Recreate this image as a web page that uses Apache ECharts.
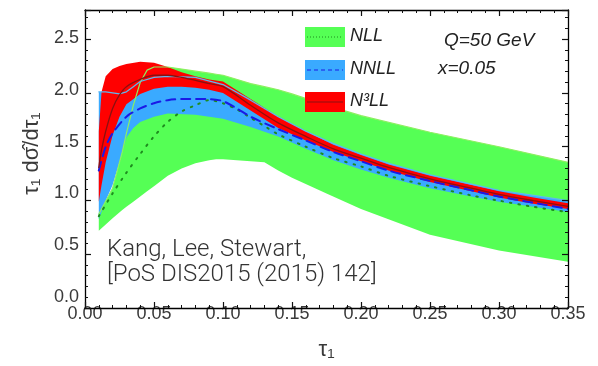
<!DOCTYPE html>
<html><head><meta charset="utf-8">
<script src="https://cdn.jsdelivr.net/npm/echarts@6/dist/echarts.min.js"></script>
<style>html,body{margin:0;padding:0;background:#fff}#c{width:598px;height:366px}</style>
</head><body><div id="c"></div>
<script>
// ---- data ----
const nllX   = [0.01,0.02,0.027,0.03,0.035,0.04,0.045,0.05,0.06,0.07,0.08,0.09,0.095,0.10,0.12,0.13,0.14,0.15,0.175,0.20,0.25,0.30,0.35];
const nllHi  = [0.80,1.05,1.40,1.58,1.85,2.07,2.19,2.22,2.22,2.20,2.18,2.16,2.15,2.14,2.06,2.03,2.00,1.96,1.85,1.75,1.59,1.45,1.30];
const nllLo  = [0.64,0.76,0.84,0.87,0.92,0.97,1.02,1.07,1.17,1.24,1.29,1.32,1.33,1.33,1.31,1.30,1.22,1.15,1.00,0.85,0.60,0.45,0.34];

const nnllX  = [0.01,0.015,0.02,0.025,0.03,0.035,0.04,0.05,0.06,0.08,0.10,0.12,0.14,0.16,0.18,0.20,0.22,0.25,0.28,0.30,0.325,0.35];
const nnllHi = [1.98,1.98,1.97,1.96,1.98,2.03,2.08,2.12,2.13,2.12,2.05,1.90,1.74,1.60,1.48,1.38,1.29,1.18,1.09,1.03,0.98,0.93];
const nnllLo = [0.75,0.93,1.08,1.30,1.54,1.63,1.69,1.74,1.77,1.76,1.72,1.64,1.55,1.43,1.32,1.23,1.15,1.05,0.97,0.92,0.87,0.82];

const n3llX  = [0.01,0.012,0.015,0.02,0.025,0.03,0.04,0.05,0.06,0.07,0.08,0.09,0.10,0.12,0.14,0.16,0.18,0.20,0.22,0.25,0.28,0.30,0.325,0.35];
const n3llHi = [1.60,1.98,2.13,2.20,2.23,2.25,2.27,2.26,2.22,2.17,2.13,2.10,2.08,1.91,1.74,1.60,1.47,1.37,1.28,1.17,1.08,1.02,0.96,0.905];
const n3llLo = [0.92,1.08,1.30,1.56,1.74,1.86,1.96,2.01,2.03,2.03,2.02,2.00,1.97,1.80,1.63,1.51,1.40,1.31,1.22,1.11,1.02,0.96,0.90,0.85];
const n3llC  = [1.25,1.42,1.60,1.82,1.95,2.03,2.10,2.14,2.14,2.12,2.09,2.06,2.03,1.85,1.68,1.55,1.43,1.34,1.25,1.14,1.05,0.99,0.93,0.875];

const nllCX  = [0.01,0.02,0.03,0.04,0.05,0.06,0.07,0.08,0.09,0.10,0.11,0.12,0.13,0.14,0.16,0.18,0.20,0.22,0.25,0.28,0.30,0.325,0.35];
const nllC   = [0.78,1.00,1.20,1.38,1.55,1.69,1.79,1.85,1.90,1.87,1.81,1.73,1.65,1.57,1.45,1.34,1.26,1.17,1.07,0.98,0.93,0.87,0.82];

const nnllCX = [0.01,0.015,0.02,0.03,0.04,0.05,0.06,0.07,0.08,0.09,0.10,0.11,0.12,0.14,0.16,0.18,0.20,0.22,0.25,0.28,0.30,0.325,0.35];
const nnllC  = [1.22,1.45,1.58,1.74,1.82,1.87,1.90,1.91,1.91,1.91,1.89,1.82,1.74,1.62,1.51,1.40,1.31,1.22,1.12,1.03,0.97,0.91,0.85];

const xTicks = [0, 0.05, 0.10, 0.15, 0.20, 0.25, 0.30, 0.35];
const yTicks = [0, 0.5, 1.0, 1.5, 2.0, 2.5];

// ---- helpers ----
const zip = (xs, ys) => xs.map((x, i) => [x, ys[i]]);
// band polygon drawn through the cartesian coordinate system (api.coord)
function band(name, xs, hi, lo, color, z) {
  return {
    type: 'custom', name, z, silent: true,
    data: zip(xs, hi),
    encode: { x: 0, y: 1 },
    renderItem: (params, api) => {
      if (params.dataIndex !== 0) return;
      const pts = [];
      for (let i = 0; i < xs.length; i++) pts.push(api.coord([xs[i], hi[i]]));
      for (let i = xs.length - 1; i >= 0; i--) pts.push(api.coord([xs[i], lo[i]]));
      return { type: 'polygon', shape: { points: pts, smooth: 0 }, style: { fill: color } };
    }
  };
}
function line(xs, ys, color, width, type, z, smooth) {
  return {
    type: 'line', data: zip(xs, ys), showSymbol: false, silent: true, z,
    smooth: smooth === undefined ? 0.3 : smooth,
    lineStyle: { color, width, type, cap: 'round' }
  };
}

const font = "'Liberation Sans', Arial, sans-serif";
const isTick = (v, arr) => arr.some(t => Math.abs(t - v) < 1e-6);
// labelled axes on grid 0 (data), frame+ticks on grid 1 (same rectangle)
function labelAxis(isX) {
  const o = {
    type: 'value', gridIndex: 0, position: isX ? 'bottom' : 'left',
    min: 0, max: isX ? 0.35 : 2.77, interval: isX ? 0.05 : 0.5,
    axisLine: { show: false, onZero: false }, axisTick: { show: false }, splitLine: { show: false },
    axisLabel: {
      show: true, fontSize: 18, color: '#3a3a3a', fontFamily: font, margin: isX ? 8 : 6,
      formatter: v => isTick(v, isX ? xTicks : yTicks) ? v.toFixed(isX ? 2 : 1) : ''
    },
    nameLocation: 'middle',
    nameTextStyle: { fontSize: 22, color: '#3a3a3a', fontFamily: font }
  };
  if (isX) { o.name = 'τ₁'; o.nameGap = 42; }
  else { o.name = 'τ₁ dσ̂/dτ₁'; o.nameGap = 40; o.nameRotate = 90; }
  return o;
}
function frameAxis(isX, position) {
  return {
    type: 'value', gridIndex: 1, position, z: 10,
    min: 0, max: isX ? 0.35 : 2.77, interval: isX ? 0.05 : 0.5,
    axisLine: { show: true, onZero: false, lineStyle: { color: '#000', width: 1.3 } },
    axisTick: { show: true, inside: true, length: 6, lineStyle: { color: '#111', width: 1.2 } },
    minorTick: { show: true, splitNumber: 5, length: 3, lineStyle: { color: '#111', width: 1 } },
    splitLine: { show: false },
    axisLabel: { show: false }
  };
}

const chart = echarts.init(document.getElementById('c'), null, { renderer: 'canvas' });
chart.setOption({
  animation: false,
  backgroundColor: '#fff',
  grid: [
    { left: 85, right: 30, top: 10, bottom: 58 },
    { left: 85, right: 30, top: 10, bottom: 58 }
  ],
  xAxis: [labelAxis(true), frameAxis(true, 'bottom'), frameAxis(true, 'top')],
  yAxis: [labelAxis(false), frameAxis(false, 'left'), frameAxis(false, 'right')],
  series: [
    band('NLL', nllX, nllHi, nllLo, '#55FF55', 1),
    band('NNLL', nnllX, nnllHi, nnllLo, '#3AAAFF', 2),
    band('N3LL', n3llX, n3llHi, n3llLo, '#FF0000', 3),
    line(nllX, nllHi, '#8CF060', 1.2, 'solid', 4, false),
    line(nnllX, nnllHi, '#5FB8F0', 1.2, 'solid', 4, false),
    line(nllCX, nllC, '#1E8C1E', 2, [1.5, 7], 5),
    line(nnllCX, nnllC, '#1A1AE6', 2, [9, 6], 6),
    line(n3llX, n3llC, '#8B1010', 1.3, 'solid', 7)
  ],
  graphic: [
    // legend
    { type: 'rect', left: 305, top: 27, shape: { width: 40, height: 20 }, style: { fill: '#55FF55' }, z: 20 },
    { type: 'line', shape: { x1: 307, y1: 37, x2: 343, y2: 37 }, style: { stroke: '#1E8C1E', lineWidth: 1, lineDash: [1, 2] }, z: 21 },
    { type: 'rect', left: 305, top: 60, shape: { width: 40, height: 20 }, style: { fill: '#3AAAFF' }, z: 20 },
    { type: 'line', shape: { x1: 307, y1: 70, x2: 343, y2: 70 }, style: { stroke: '#1A1AE6', lineWidth: 1, lineDash: [4, 3] }, z: 21 },
    { type: 'rect', left: 305, top: 92, shape: { width: 40, height: 20 }, style: { fill: '#FF0000' }, z: 20 },
    { type: 'line', shape: { x1: 307, y1: 102, x2: 343, y2: 102 }, style: { stroke: '#8B1010', lineWidth: 1 }, z: 21 },
    { type: 'text', left: 350, top: 27, style: { text: 'NLL', font: 'italic 18px ' + font, fill: '#222' }, z: 21 },
    { type: 'text', left: 350, top: 60, style: { text: 'NNLL', font: 'italic 18px ' + font, fill: '#222' }, z: 21 },
    { type: 'text', left: 350, top: 92, style: { text: 'N³LL', font: 'italic 18px ' + font, fill: '#222' }, z: 21 },
    { type: 'text', left: 444, top: 31, style: { text: 'Q=50 GeV', font: 'italic 19px ' + font, fill: '#222' }, z: 21 },
    { type: 'text', left: 438, top: 59, style: { text: 'x=0.05', font: 'italic 19px ' + font, fill: '#222' }, z: 21 },
    // credit
    { type: 'text', left: 107, top: 238, style: { text: 'Kang, Lee, Stewart,', font: '300 24px Roboto, sans-serif', fill: '#333' }, z: 21 },
    { type: 'text', left: 107, top: 263, style: { text: '[PoS DIS2015 (2015) 142]', font: '300 24px Roboto, sans-serif', fill: '#333' }, z: 21 }
  ]
});
</script></body></html>
